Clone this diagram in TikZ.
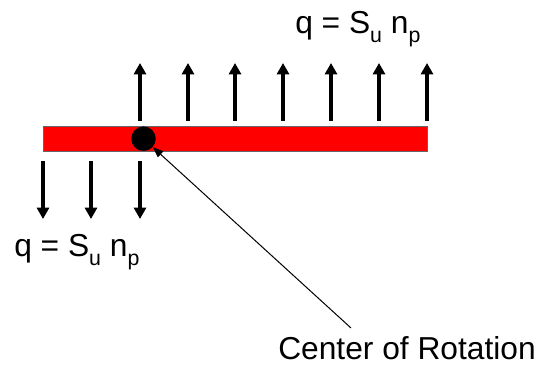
\documentclass[tikz,border=0pt]{standalone}
\usepackage{fontspec}
\setmainfont{Liberation Sans}
\usetikzlibrary{arrows.meta}
\newcommand{\mysubs}[1]{\raisebox{-0.28em}{\fontsize{16}{16}\selectfont #1}}
\begin{document}
\begin{tikzpicture}[x=0.75pt,y=-0.75pt,
  lbl/.style={inner sep=0pt,font=\fontsize{23.8}{28}\selectfont},
  force/.style={line width=2.6pt,-{Triangle[width=9pt,length=8.5pt]}},
  barbox/.style={draw=black!60,line width=0.8pt,fill=red},
  pointer/.style={line width=0.75pt,-{Triangle[width=6pt,length=8pt]}}]
\useasboundingbox (0,0) rectangle (539,370);
\node[barbox,minimum width=384*0.75pt,minimum height=25*0.75pt,inner sep=0pt,anchor=north west] (bar) at (43,126) {};
\node[circle,fill=black,minimum size=24.5*0.75pt,inner sep=0pt] (dot) at (143.5,138.7) {};
\foreach \x [count=\i] in {140,188,235,283,331,379,427}{
  \coordinate (ub\i) at (\x,121);
  \coordinate (ut\i) at (\x,63);
  \draw[force] (ub\i) -- (ut\i);
}
\foreach \x [count=\i] in {43,91,140}{
  \coordinate (db\i) at (\x,161);
  \coordinate (dt\i) at (\x,219);
  \draw[force] (db\i) -- (dt\i);
}
\node[lbl,anchor=base west] (qtop) at (295,34) {q = S\mysubs{u} n\mysubs{p}};
\node[lbl,anchor=base west] (qbot) at (14,257) {q = S\mysubs{u} n\mysubs{p}};
\node[lbl,anchor=base west] (cor) at (278,359) {Center of Rotation};
\coordinate (ptr) at (351,328);
\draw[pointer] (ptr) -- (dot);
\end{tikzpicture}
\end{document}
